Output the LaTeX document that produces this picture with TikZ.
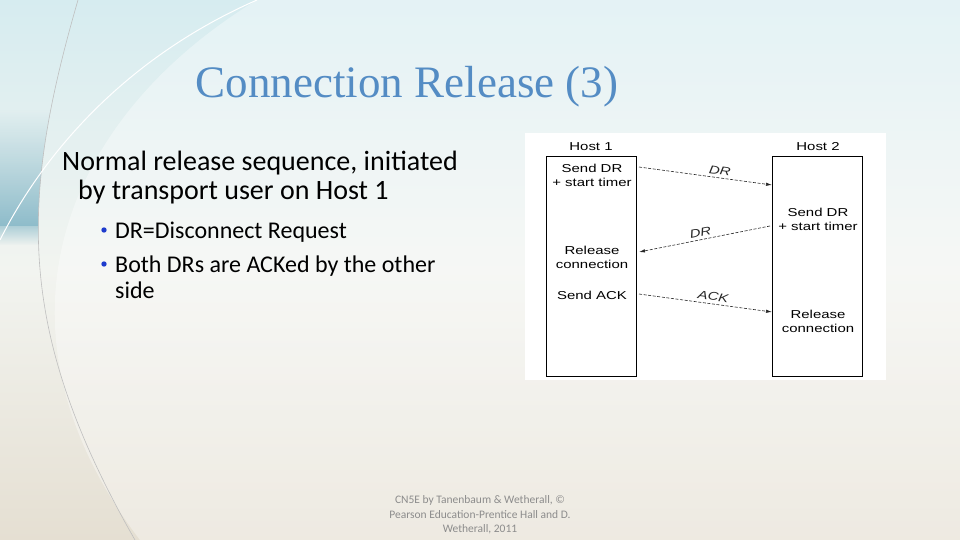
\documentclass[tikz,border=0pt]{standalone}
\usepackage{fontspec}
\usepackage{tikz}
\usepackage{xcolor}
\usetikzlibrary{arrows.meta, fadings}
\setmainfont{Carlito}
\newfontfamily\titlefont{Liberation Serif}
\newfontfamily\diagfont[FakeStretch=1.3]{Liberation Sans}

\definecolor{titleblue}{RGB}{84,140,196}
\definecolor{bulletblue}{RGB}{30,60,205}
\definecolor{bgtop}{RGB}{214,236,240}
\definecolor{bgmid}{RGB}{242,244,240}
\definecolor{bgbot}{RGB}{229,223,210}
\definecolor{bandteal}{RGB}{110,170,190}
\definecolor{footgray}{RGB}{140,140,140}

\begin{document}
\begin{tikzpicture}[x=1pt, y=-1pt, >=Latex,
    body/.style={anchor=base west, inner sep=0pt, font=\fontsize{28}{34}\selectfont},
    sub/.style={anchor=base west, inner sep=0pt, font=\fontsize{24}{29}\selectfont},
    dot/.style={circle, fill=bulletblue, inner sep=0pt, minimum size=5.4pt},
    hostbox/.style={draw, line width=0.9pt, minimum width=90pt, minimum height=220pt, inner sep=0pt},
    event/.style={align=center, inner sep=0pt, font=\diagfont\fontsize{11.5}{14}\selectfont},
    msg/.style={line width=0.6pt, black!85, dash pattern=on 3pt off 1.6pt,
        arrows={-Latex[length=6pt, width=3.4pt]}},
    msglabel/.style={sloped, above, inner sep=3pt, font=\diagfont\itshape\fontsize{11.5}{13}\selectfont}]

    \useasboundingbox (0,0) rectangle (960,540);

    % Background
    \shade[top color=bgtop, bottom color=bgbot, middle color=bgmid] (0,0) rectangle (960,540);
    \fill[white, opacity=0.35] (257,0) .. controls (60,120) and (-20,330) .. (140,540) -- (960,540) -- (960,0) -- cycle;
    \begin{scope}
        \clip (0,0) -- (78,0) .. controls (20,200) and (15,330) .. (135,540) -- (0,540) -- cycle;
        \fill[bandteal, opacity=0.75, path fading=north] (0,110) rectangle (80,226);
        \fill[bandteal, opacity=0.5, path fading=south] (0,226) rectangle (80,245);
    \end{scope}
    \draw[black!25, line width=0.6pt] (78,0) .. controls (20,200) and (15,330) .. (135,540);
    \draw[white, line width=1pt] (257,0) .. controls (120,60) and (40,160) .. (0,240);

    % Title
    \node (title) [inner sep=0pt, anchor=base, text=titleblue, font=\titlefont\fontsize{45}{50}\selectfont]
        at (407,98) {Connection Release (3)};

    % Body text
    \node (line1) [body] at (62,171) {Normal release sequence, initiated};
    \node (line2) [body] at (78,200) {by transport user on Host 1};
    \node (dot1) [dot] at (104,230) {};
    \node (item1) [sub] at (115,238) {DR=Disconnect Request};
    \node (dot2) [dot] at (104,264) {};
    \node (item2) [sub] at (115,272) {Both DRs are ACKed by the other};
    \node (item2b) [sub] at (115,298) {side};

    % Diagram panel
    \fill[white] (525,133) rectangle (886,380);
    \node (host1) [hostbox, anchor=north west] at (546,156) {};
    \node (host2) [hostbox, anchor=north west] at (772,156) {};
    \node (h1label) [event] at (591,147) {Host 1};
    \node (h2label) [event] at (818,147) {Host 2};

    % Host 1 events
    \node (senddr1) [event] at (592,175) {Send DR\\+ start timer};
    \node (release1) [event] at (592,257) {Release\\connection};
    \node (sendack) [event] at (592,295) {Send ACK};

    % Host 2 events
    \node (senddr2) [event] at (818,219) {Send DR\\+ start timer};
    \node (release2) [event] at (818,321) {Release\\connection};

    % Message ends
    \coordinate (m1a) at (639,167);
    \coordinate (m1b) at (772,185);
    \coordinate (m2a) at (770,226);
    \coordinate (m2b) at (639,252);
    \coordinate (m3a) at (639,294);
    \coordinate (m3b) at (772,312);

    % Messages
    \draw[msg] (m1a) -- node[msglabel, pos=0.6] {DR} (m1b);
    \draw[msg] (m2a) -- node[msglabel, pos=0.52] {DR} (m2b);
    \draw[msg] (m3a) -- node[msglabel, pos=0.55] {ACK} (m3b);

    % Footer
    \node (credit) [align=center, text=footgray, inner sep=0pt, font=\fontsize{11.5}{14.5}\selectfont]
        at (480,515) {CN5E by Tanenbaum \& Wetherall, ©\\Pearson Education-Prentice Hall and D.\\Wetherall, 2011};

\end{tikzpicture}
\end{document}
